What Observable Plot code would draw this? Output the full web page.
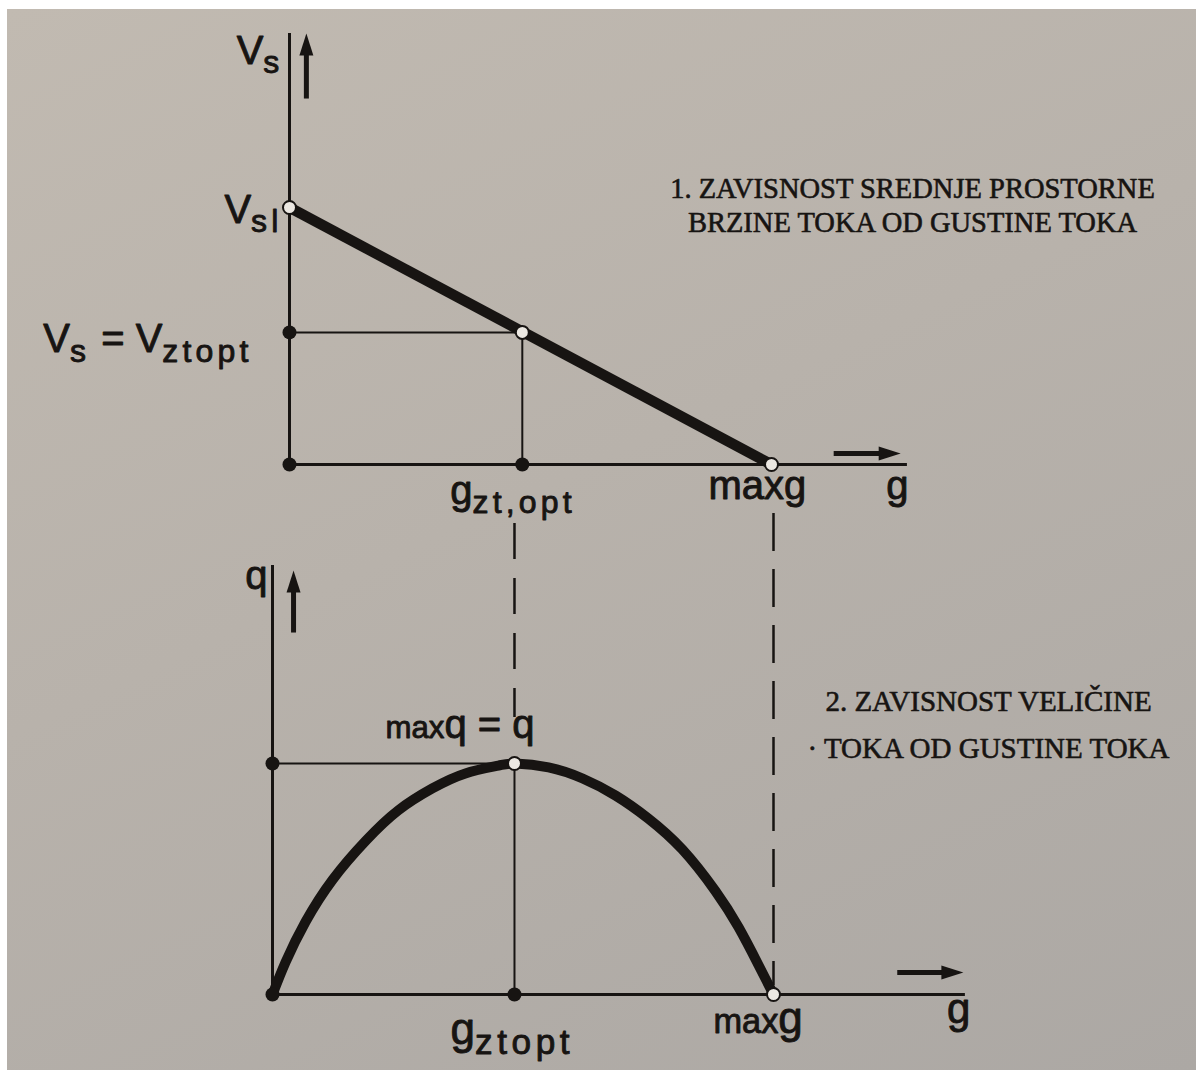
<!DOCTYPE html>
<html><head><meta charset="utf-8">
<script src="https://cdn.jsdelivr.net/npm/d3@7"></script>
<script src="https://cdn.jsdelivr.net/npm/@observablehq/plot@0.6"></script>
<style>
html,body{margin:0;padding:0;background:#fff;}
#page{position:relative;width:1200px;height:1070px;overflow:hidden;background:#fff;}
#photo{position:absolute;left:7px;top:9px;right:4px;bottom:0;background:linear-gradient(155deg,#c1bab1 0%,#b8b2ab 45%,#aca8a4 100%);}
.panel{position:absolute;left:0;}
</style></head><body><div id="page"><div id="photo"></div></div>
<script>
// ---------- data (normalised: density g, speed V, flow q) ----------
const speedG = [0, 1];             // Vs falls linearly from Vsl (g=0) to 0 at max g
const speedV = [1, 0];
const gOpt = 0.483;                // g zt,opt
const vOpt = 0.514;                // Vs = V ztopt
// flow curve
const flowG = [0, 0.026, 0.066, 0.120, 0.186, 0.251, 0.319, 0.385, 0.451, 0.485, 0.551, 0.619, 0.685, 0.750, 0.818, 0.884, 0.930, 0.970, 1.0];
const flowQ = [0, 0.140, 0.315, 0.497, 0.665, 0.797, 0.892, 0.957, 0.991, 1.0, 0.983, 0.935, 0.861, 0.762, 0.628, 0.448, 0.292, 0.128, 0];
// axis extents / arrows (data units)
const topAxis = {vTop: 1.677, gEnd: 1.282};
const topArrowV = {g: 0.035, from: 1.424, to: 1.677};
const topArrowG = {v: 0.043, from: 1.129, to: 1.268};
const botAxis = {qTop: 1.857, gEnd: 1.383};
const botArrowQ = {g: 0.042, from: 1.567, to: 1.835};
const botArrowG = {q: 0.095, from: 1.247, to: 1.379};
const dashOpt = {from: 2.039, to: 1.199};
const dashMax = {from: 2.082, to: 0.039};
// tick labels
const topYLabels = ["V_{s}", "V_{sl}", "V_{s} = V_{ztopt}"];
const topXLabels = ["g_{zt,opt}", "maxg", "g"];
const botYLabels = ["q", "~{max}q = q"];
const botXLabels = ["g_{ztopt}", "~{max}g", "g"];
const title1 = ["1. ZAVISNOST SREDNJE PROSTORNE", "BRZINE TOKA OD GUSTINE TOKA"];
const title2 = ["2. ZAVISNOST VELIČINE", "· TOKA OD GUSTINE TOKA"];

// ---------- style ----------
const ink = "#171412";
const paper = "#ece8e2";
const sans = "'Liberation Sans', Arial, sans-serif";
const serif = "'Liberation Serif', 'Times New Roman', serif";

function arrowHead(len, wid) {
  return {draw(ctx) { ctx.moveTo(0, 0); ctx.lineTo(wid / 2, len); ctx.lineTo(-wid / 2, len); ctx.closePath(); }};
}
const lab = (o) => Plot.text([o.t], {x: o.x, y: o.y, text: d => d, textAnchor: o.a || "start", lineAnchor: "bottom",
  dx: o.dx || 0, dy: o.dy || 0, fontFamily: sans, fontSize: o.fs || 40, fill: ink, stroke: ink, strokeWidth: 0.9, className: "rich"});

function richify(svg) {
  svg.querySelectorAll("g.rich text").forEach(el => {
    const src = el.textContent;
    while (el.firstChild) el.removeChild(el.firstChild);
    const re = /([_~])\{([^}]*)\}|([^_~]+)/g;
    let shifted = false, m;
    while ((m = re.exec(src))) {
      const ts = document.createElementNS("http://www.w3.org/2000/svg", "tspan");
      if (m[1] === "_") {
        ts.textContent = m[2];
        ts.setAttribute("font-size", "0.8em");
        ts.style.letterSpacing = "0.13em";
        ts.setAttribute("dy", shifted ? "0" : "0.3em");
        shifted = true;
      } else {
        ts.textContent = m[1] === "~" ? m[2] : m[3];
        if (m[1] === "~") ts.setAttribute("font-size", "0.78em");
        if (shifted) ts.setAttribute("dy", m[1] === "~" ? "-0.31em" : "-0.24em");
        shifted = false;
      }
      el.appendChild(ts);
    }
    el.style.whiteSpace = "pre";
  });
}

const flow = flowG.map((g, i) => ({g, q: flowQ[i]}));
const speed = speedG.map((g, i) => ({g, v: speedV[i]}));

// ---------- top panel ----------
const topChart = Plot.plot({
  width: 1200, height: 540, margin: 0,
  x: {domain: [0, 1], range: [289, 771], axis: null},
  y: {domain: [0, 1], range: [464, 207], axis: null},
  style: {background: "transparent", overflow: "visible"},
  marks: [
    Plot.ruleX([0], {y1: 0, y2: topAxis.vTop, stroke: ink, strokeWidth: 3}),
    Plot.ruleY([0], {x1: 0, x2: topAxis.gEnd, stroke: ink, strokeWidth: 3}),
    Plot.ruleY([vOpt], {x1: 0, x2: gOpt, stroke: ink, strokeWidth: 2}),
    Plot.ruleX([gOpt], {y1: 0, y2: vOpt, stroke: ink, strokeWidth: 2}),
    Plot.line(speed, {x: "g", y: "v", stroke: ink, strokeWidth: 10.5, strokeLinecap: "butt"}),
    Plot.dot([[0, 0], [0, vOpt], [gOpt, 0]], {x: d => d[0], y: d => d[1], r: 7, fill: ink}),
    Plot.dot([[0, 1], [gOpt, vOpt], [1, 0]], {x: d => d[0], y: d => d[1], r: 6.5, fill: paper, stroke: ink, strokeWidth: 2}),
    // arrows
    Plot.link([0], {x1: topArrowV.g, x2: topArrowV.g, y1: topArrowV.from, y2: topArrowV.to - 0.06, stroke: ink, strokeWidth: 5}),
    Plot.dot([0], {x: topArrowV.g, y: topArrowV.to, symbol: arrowHead(22, 14), fill: ink, stroke: "none", r: 5}),
    Plot.link([0], {y1: topArrowG.v, y2: topArrowG.v, x1: topArrowG.from, x2: topArrowG.to - 0.035, stroke: ink, strokeWidth: 5}),
    Plot.dot([0], {x: topArrowG.to, y: topArrowG.v, symbol: arrowHead(22, 14), rotate: 90, fill: ink, stroke: "none", r: 5}),
    // labels
    lab({t: topYLabels[0], x: 0, y: topAxis.vTop, a: "end", dx: -6, dy: 30}),
    lab({t: topYLabels[1], x: 0, y: 1, a: "end", dx: -7, dy: 15}),
    lab({t: topYLabels[2], x: 0, y: vOpt, a: "end", dx: -37, dy: 20}),
    lab({t: topXLabels[0], x: gOpt, y: 0, dx: -72, dy: 39}),
    lab({t: topXLabels[1], x: 1, y: 0, dx: -63, dy: 34}),
    lab({t: topXLabels[2], x: topAxis.gEnd, y: 0, a: "end", dx: 1, dy: 34}),
    Plot.text([title1.join("\n")], {frameAnchor: "top-left", text: d => d, dx: 912, dy: 231, textAnchor: "middle",
      lineAnchor: "bottom", lineHeight: 1.16, fontFamily: serif, fontSize: 28.5, fill: ink, stroke: ink, strokeWidth: 0.6})
  ]
});

// ---------- bottom panel ----------
const bottomChart = Plot.plot({
  width: 1200, height: 590, margin: 0,
  x: {domain: [0, 1], range: [272, 773], axis: null},
  y: {domain: [0, 1], range: [514, 283], axis: null},
  style: {background: "transparent", overflow: "visible"},
  marks: [
    Plot.ruleX([0], {y1: 0, y2: botAxis.qTop, stroke: ink, strokeWidth: 3}),
    Plot.ruleY([0], {x1: 0, x2: botAxis.gEnd, stroke: ink, strokeWidth: 3}),
    Plot.ruleY([1], {x1: 0, x2: gOpt, stroke: ink, strokeWidth: 2}),
    Plot.ruleX([gOpt], {y1: 0, y2: 1, stroke: ink, strokeWidth: 2}),
    Plot.ruleX([gOpt], {y1: dashOpt.from, y2: dashOpt.to, stroke: ink, strokeWidth: 2.5, strokeDasharray: "36,19"}),
    Plot.ruleX([1], {y1: dashMax.from, y2: dashMax.to, stroke: ink, strokeWidth: 2.5, strokeDasharray: "38,18"}),
    Plot.line(flow, {x: "g", y: "q", curve: "natural", stroke: ink, strokeWidth: 10, strokeLinecap: "butt"}),
    Plot.dot([[0, 1], [0, 0], [gOpt, 0]], {x: d => d[0], y: d => d[1], r: 7, fill: ink}),
    Plot.dot([[gOpt, 1], [1, 0]], {x: d => d[0], y: d => d[1], r: 6.5, fill: paper, stroke: ink, strokeWidth: 2}),
    Plot.link([0], {x1: botArrowQ.g, x2: botArrowQ.g, y1: botArrowQ.from, y2: botArrowQ.to - 0.07, stroke: ink, strokeWidth: 5}),
    Plot.dot([0], {x: botArrowQ.g, y: botArrowQ.to, symbol: arrowHead(22, 14), fill: ink, stroke: "none", r: 5}),
    Plot.link([0], {y1: botArrowG.q, y2: botArrowG.q, x1: botArrowG.from, x2: botArrowG.to - 0.035, stroke: ink, strokeWidth: 5}),
    Plot.dot([0], {x: botArrowG.to, y: botArrowG.q, symbol: arrowHead(22, 14), rotate: 90, fill: ink, stroke: "none", r: 5}),
    lab({t: botYLabels[0], x: 0, y: botAxis.qTop, a: "end", dx: -5, dy: 23}),
    lab({t: botYLabels[1], x: gOpt, y: 1, dx: -129, dy: -26}),
    lab({t: botXLabels[0], x: gOpt, y: 0, dx: -64, dy: 49, fs: 44}),
    lab({t: botXLabels[1], x: 1, y: 0, dx: -60, dy: 38, fs: 44}),
    lab({t: botXLabels[2], x: botAxis.gEnd, y: 0, a: "end", dx: 5, dy: 28, fs: 42}),
    Plot.text([title2.join("\n")], {frameAnchor: "top-left", text: d => d, dx: 988, dy: 277, textAnchor: "middle",
      lineAnchor: "bottom", lineHeight: 1.59, fontFamily: serif, fontSize: 29, fill: ink, stroke: ink, strokeWidth: 0.6})
  ]
});

const page = document.getElementById("page");
[[topChart, 0], [bottomChart, 480]].forEach(([svg, y]) => {
  richify(svg);
  svg.classList.add("panel");
  svg.style.top = y + "px";
  page.appendChild(svg);
});
</script></body></html>
